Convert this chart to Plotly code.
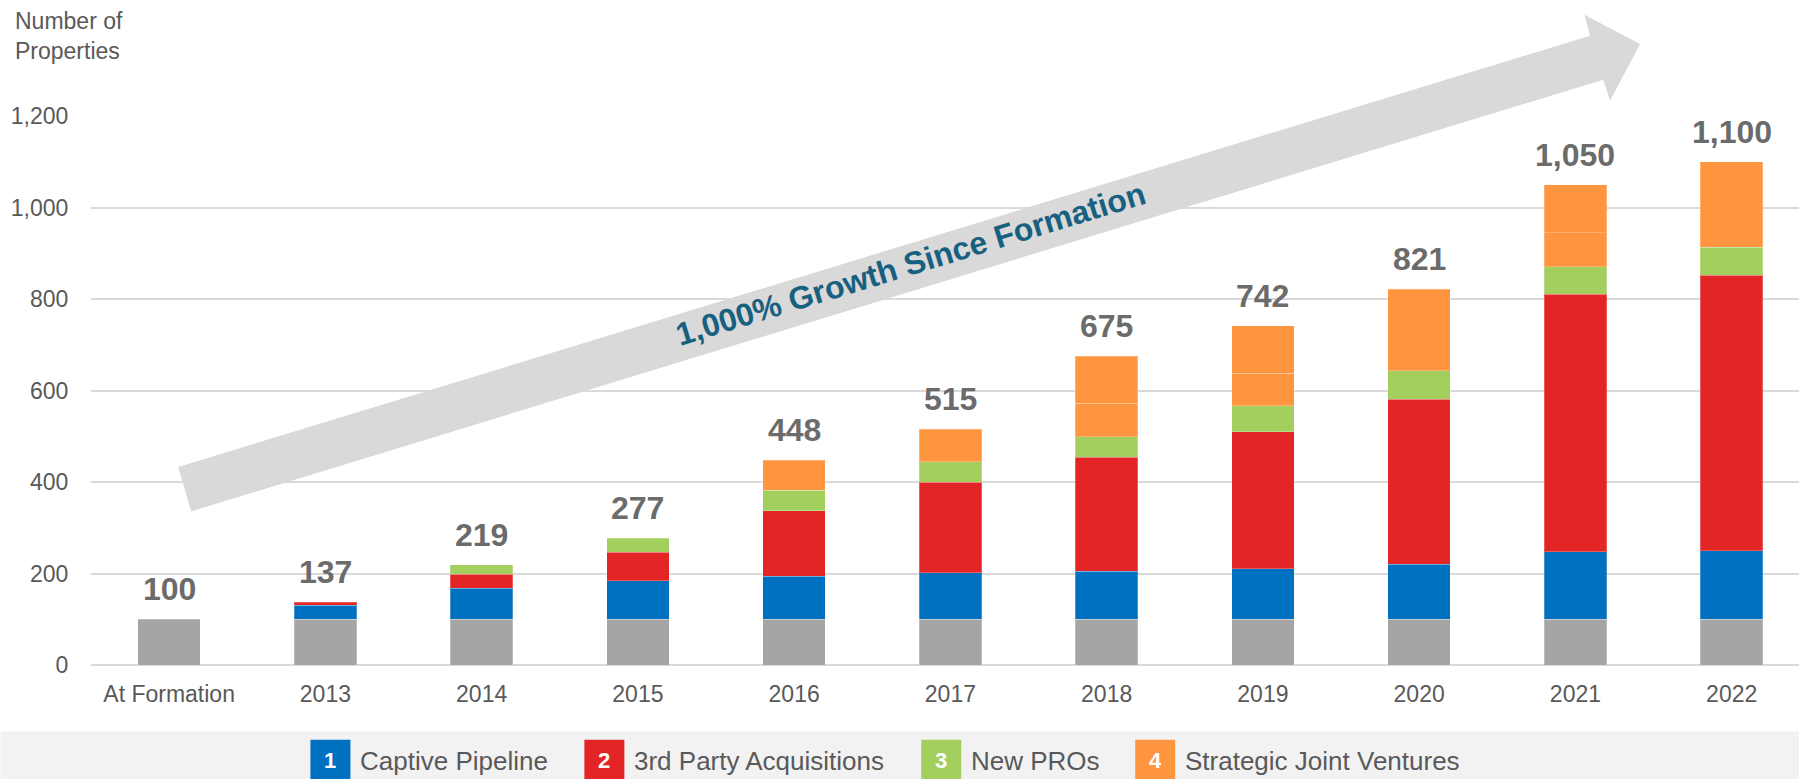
import plotly.graph_objects as go

# ---------------- data ----------------
categories = ["At Formation", "2013", "2014", "2015", "2016", "2017",
              "2018", "2019", "2020", "2021", "2022"]
formation = [100, 100, 100, 100, 100, 100, 100, 100, 100, 100, 100]
captive_pipeline = [None, 31, 68, 84, 94, 102, 105, 110, 120, 148, 150]
third_party = [None, 6, 30, 62, 143, 197, 249, 300, 361, 562, 602]
new_pros = [None, None, 21, 31, 45, 45, 45, 57, 62, 61, 61]
strategic_jv_a = [None, None, None, None, 66, 71, 73, 71, 178, 74, 187]
strategic_jv_b = [None, None, None, None, None, None, 103, 104, None, 105, None]
totals = [100, 137, 219, 277, 448, 515, 675, 742, 821, 1050, 1100]
y_ticks = [0, 200, 400, 600, 800, 1000, 1200]

legend_items = [("1", "Captive Pipeline", "#0070C0"),
                ("2", "3rd Party Acquisitions", "#E32526"),
                ("3", "New PROs", "#A3CF5E"),
                ("4", "Strategic Joint Ventures", "#FF963F")]

# ---------------- geometry helpers ----------------
W, H = 1799, 779
ML, MR, MT, MB = 90.5, 0, 116.3, 113.7
PW, PH = W - ML - MR, H - MT - MB
FONT = "Liberation Sans, Arial, sans-serif"


def px(x):
    return (x - ML) / PW


def py(y):
    return (H - MB - y) / PH


fig = go.Figure()

series = [
    ("Properties at Formation", formation, "#A5A5A5"),
    ("Captive Pipeline", captive_pipeline, "#0070C0"),
    ("3rd Party Acquisitions", third_party, "#E32526"),
    ("New PROs", new_pros, "#A3CF5E"),
    ("Strategic Joint Ventures", strategic_jv_a, "#FF963F"),
    ("Strategic Joint Ventures (cont.)", strategic_jv_b, "#FF963F"),
]
for name, vals, col in series:
    fig.add_trace(go.Bar(
        x=categories, y=vals, name=name,
        marker=dict(color=col, line=dict(color="rgba(255,255,255,0.25)", width=1)),
        width=0.4, showlegend=False, hoverinfo="x+y+name",
    ))

# total labels above bars (category index used as x position)
for i, t in enumerate(totals):
    fig.add_annotation(x=i, y=t, text=f"<b>{t:,}</b>", showarrow=False,
                       yanchor="middle", yshift=30,
                       font=dict(family=FONT, size=32, color="#6B6B6B"))

# growth arrow (decorative)
arrow_pts = [(177.7, 467.3), (1590, 36), (1584.3, 15), (1640, 44.3),
             (1610, 101), (1603.3, 80), (190.7, 511.7)]
path = "M " + " L ".join(f"{px(x):.5f},{py(y):.5f}" for x, y in arrow_pts) + " Z"
fig.add_shape(type="path", path=path, xref="paper", yref="paper",
              fillcolor="#D9D9D9", line=dict(width=0), layer="between")
fig.add_annotation(x=px(910), y=py(264), xref="paper", yref="paper",
                   text="<b>1,000% Growth Since Formation</b>", showarrow=False,
                   textangle=-17, xanchor="center", yanchor="middle",
                   font=dict(family=FONT, size=32, color="#17607F"))

# y-axis title
fig.add_annotation(x=px(12), y=py(36), xref="paper", yref="paper",
                   text="Number of<br>Properties", showarrow=False, align="left",
                   xanchor="left", yanchor="middle",
                   font=dict(family=FONT, size=23, color="#595959"))

# legend band and custom numbered legend
fig.add_shape(type="rect", xref="paper", yref="paper",
              x0=px(0), x1=px(W), y0=py(731.7), y1=py(H + 5),
              fillcolor="#F2F2F2", line=dict(width=0), layer="below")
legend_x = [310, 584, 921, 1135]
for (num, label, col), lx in zip(legend_items, legend_x):
    fig.add_shape(type="rect", xref="paper", yref="paper",
                  x0=px(lx), x1=px(lx + 40), y0=py(740), y1=py(H + 5),
                  fillcolor=col, line=dict(width=0), layer="above")
    fig.add_annotation(x=px(lx + 20), y=py(761), xref="paper", yref="paper",
                       text=f"<b>{num}</b>", showarrow=False,
                       xanchor="center", yanchor="middle",
                       font=dict(family=FONT, size=22, color="white"))
    fig.add_annotation(x=px(lx + 48), y=py(761), xref="paper", yref="paper",
                       text=label, showarrow=False,
                       xanchor="left", yanchor="middle",
                       font=dict(family=FONT, size=26, color="#595959"))

fig.update_layout(
    width=W, height=H, autosize=False,
    margin=dict(l=ML, r=MR, t=MT, b=MB, pad=0),
    barmode="stack", bargap=0.6,
    plot_bgcolor="white", paper_bgcolor="white",
    showlegend=False,
    font=dict(family=FONT, color="#595959"),
)
fig.update_xaxes(
    range=[-0.5, -0.5 + PW / 156.3], type="category",
    showgrid=False, showline=False, zeroline=False,
    ticks="outside", ticklen=8, tickcolor="rgba(0,0,0,0)",
    tickfont=dict(family=FONT, size=23, color="#595959"),
)
fig.update_yaxes(
    range=[0, 1200], tickvals=y_ticks, tickformat=",",
    showgrid=True, gridcolor="#D9D9D9", gridwidth=2,
    zeroline=True, zerolinecolor="#D9D9D9", zerolinewidth=2,
    showline=False,
    ticks="outside", ticklen=17, tickcolor="rgba(0,0,0,0)",
    tickfont=dict(family=FONT, size=23, color="#595959"),
)

fig.write_html(
    "out.html",
    config={"displayModeBar": False},
    post_script="document.body.style.margin='0px';document.body.style.overflow='hidden';",
)
